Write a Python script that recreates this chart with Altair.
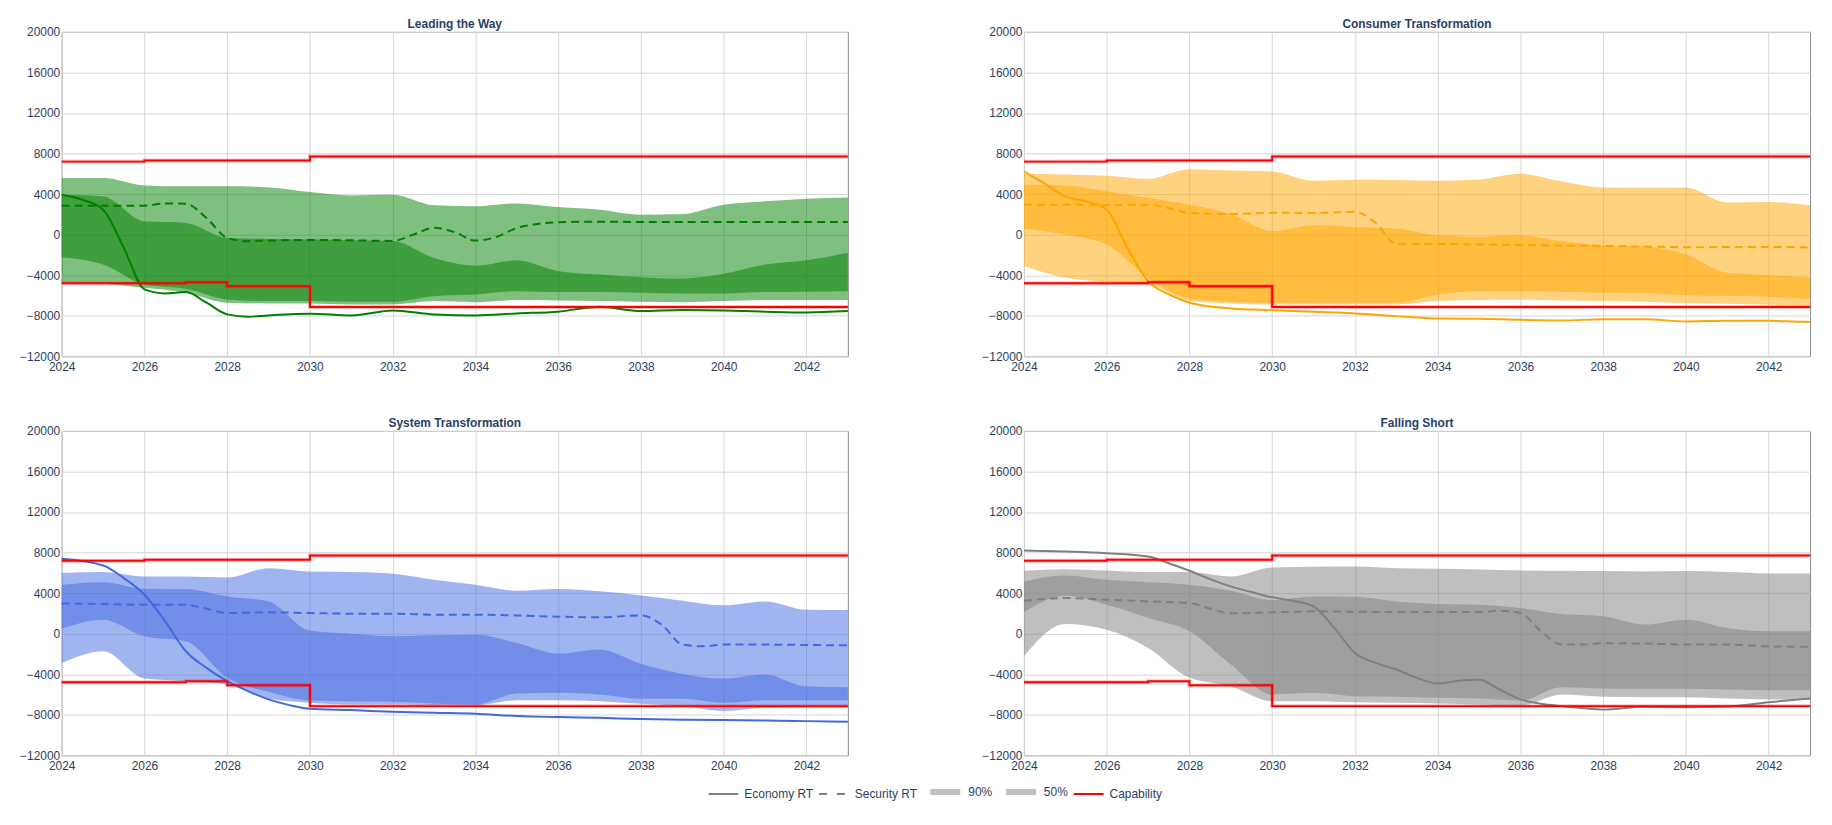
import altair as alt
import pandas as pd

# ---------------- data ----------------
YEARS = list(range(2024, 2044))
X_TICKS = list(range(2024, 2043, 2))
Y_TICKS = list(range(-12000, 20001, 4000))

# Leading the Way
LTW_P90_LO = [-4700, -4850, -5250, -5740, -6720, -6790, -6790, -6890, -6890, -6560, -6660, -6460, -6490, -6560, -6620, -6660, -6560, -6460, -6460, -6460]
LTW_P90_HI = [5580, 5580, 4850, 4760, 4760, 4660, 4200, 3870, 3940, 2900, 2790, 3080, 2720, 2460, 1970, 2030, 2950, 3280, 3540, 3670]
LTW_P50_LO = [-2230, -2950, -4920, -5350, -6400, -6560, -6560, -6620, -6620, -6070, -5900, -5580, -5670, -5670, -5740, -5810, -5810, -5670, -5640, -5580]
LTW_P50_HI = [3940, 3770, 1310, 1150, -330, -430, -490, -560, -620, -2300, -3050, -2530, -3610, -3940, -4200, -4330, -3870, -2950, -2530, -1800]
LTW_ECON_X = [2024, 2024.5, 2025, 2025.5, 2026, 2026.5, 2027, 2027.5, 2028, 2028.5, 2029, 2030, 2031, 2032, 2033, 2034, 2035, 2036, 2037, 2038, 2039, 2040, 2041, 2042, 2043]
LTW_ECON_Y = [3940, 3440, 2460, -1300, -5400, -5800, -5670, -6720, -7870, -8100, -7970, -7800, -7970, -7480, -7870, -7970, -7770, -7600, -7120, -7540, -7440, -7480, -7600, -7680, -7540]
LTW_SEC_X = [2024, 2025, 2026, 2026.5, 2027, 2027.5, 2028, 2028.5, 2029, 2030, 2031, 2032, 2032.5, 2033, 2033.5, 2034, 2034.5, 2035, 2035.5, 2036, 2037, 2038, 2039, 2040, 2041, 2042, 2043]
LTW_SEC_Y = [2850, 2850, 2850, 3080, 3050, 1640, -330, -650, -590, -520, -560, -620, 0, 680, 230, -590, -230, 650, 1050, 1210, 1280, 1250, 1250, 1250, 1250, 1250, 1250]

# Consumer Transformation
CT_P90_LO = [-3120, -4260, -4660, -4920, -6560, -6790, -6890, -6890, -6890, -6890, -6560, -6460, -6430, -6490, -6560, -6620, -6760, -6820, -6920, -6990]
CT_P90_HI = [5970, 5940, 5810, 5510, 6460, 6330, 6230, 5310, 5410, 5380, 5310, 5440, 6000, 5250, 4660, 4620, 4660, 3180, 3210, 2890]
CT_P50_LO = [590, 0, -980, -4260, -6300, -6620, -6720, -6690, -6720, -6720, -5900, -5580, -5580, -5640, -5740, -5770, -5970, -6040, -6130, -6330]
CT_P50_HI = [4920, 4850, 4260, 3610, 2950, 2030, 330, 920, 720, 590, -70, -230, -70, -660, -1050, -1180, -1970, -3770, -4000, -4260]
CT_ECON_X = [2024, 2024.5, 2025, 2025.5, 2026, 2026.5, 2027, 2027.5, 2028, 2029, 2030, 2031, 2032, 2033, 2034, 2035, 2036, 2037, 2038, 2039, 2040, 2041, 2042, 2043]
CT_ECON_Y = [6230, 5020, 3770, 3280, 2460, -1310, -4590, -5900, -6720, -7280, -7450, -7610, -7770, -8040, -8270, -8300, -8400, -8460, -8360, -8360, -8560, -8500, -8500, -8630]
CT_SEC_X = [2024, 2025, 2026, 2027, 2027.5, 2028, 2029, 2030, 2031, 2032, 2032.5, 2033, 2034, 2035, 2036, 2037, 2038, 2039, 2040, 2041, 2042, 2043]
CT_SEC_Y = [2950, 2950, 2890, 2950, 2620, 2130, 2030, 2160, 2130, 2250, 1150, -920, -920, -980, -1020, -1080, -1120, -1180, -1250, -1210, -1210, -1250]

# System Transformation
ST_P90_LO = [-2890, -1740, -4430, -4690, -5020, -6400, -6820, -6990, -6990, -7050, -7050, -6560, -6560, -6660, -6920, -7150, -7640, -7310, -7250, -7250]
ST_P90_HI = [5970, 6070, 5640, 5640, 5540, 6460, 6130, 6070, 5900, 5310, 4820, 4230, 4400, 4170, 3770, 3250, 2790, 3180, 2360, 2330]
ST_P50_LO = [490, 1380, -260, -750, -4360, -5740, -6590, -6660, -6720, -6890, -6990, -5900, -5840, -6000, -6430, -6430, -6820, -6560, -6560, -6560]
ST_P50_HI = [4820, 5080, 4430, 4400, 3670, 3180, 300, 0, -260, -160, -100, -920, -1970, -1570, -2980, -3970, -4430, -4030, -5220, -5280]
ST_ECON_X = [2024, 2025, 2025.5, 2026, 2026.5, 2027, 2027.5, 2028, 2028.5, 2029, 2029.5, 2030, 2031, 2032, 2033, 2034, 2035, 2036, 2037, 2038, 2039, 2040, 2041, 2042, 2043]
ST_ECON_Y = [7380, 6720, 5480, 3840, 1210, -1740, -3380, -4690, -5670, -6490, -7050, -7410, -7540, -7710, -7810, -7900, -8130, -8230, -8300, -8430, -8490, -8530, -8560, -8630, -8690]
ST_SEC_X = [2024, 2025, 2026, 2027, 2027.5, 2028, 2029, 2030, 2031, 2032, 2033, 2034, 2035, 2036, 2037, 2038, 2038.5, 2039, 2039.5, 2040, 2041, 2042, 2043]
ST_SEC_Y = [2980, 2920, 2850, 2850, 2460, 2030, 2100, 2030, 1970, 1970, 1870, 1870, 1800, 1670, 1610, 1800, 890, -1080, -1250, -1080, -1080, -1120, -1150]

# Falling Short
FS_P90_LO = [-2230, 950, 390, -1410, -4360, -5180, -6660, -6660, -6760, -6820, -6890, -6990, -7090, -6000, -6230, -6270, -6270, -6400, -6490, -6490]
FS_P90_HI = [6200, 6360, 6230, 6070, 6070, 5640, 6530, 6590, 6620, 6460, 6400, 6330, 6230, 6200, 6170, 6130, 6170, 6070, 5940, 5940]
FS_P50_LO = [2130, 3740, 2850, 1540, 230, -3050, -6000, -5840, -6170, -6230, -6330, -6400, -6590, -5280, -5410, -5440, -5440, -5510, -5580, -5580]
FS_P50_HI = [5150, 5740, 5310, 5080, 4820, 4230, 3310, 3670, 3640, 3180, 2920, 2850, 2530, 1940, 1710, 890, 1380, 560, 230, 230]
FS_ECON_X = [2024, 2025, 2026, 2027, 2027.5, 2028, 2028.5, 2029, 2029.5, 2030, 2030.5, 2031, 2031.5, 2032, 2032.5, 2033, 2033.5, 2034, 2034.5, 2035, 2035.5, 2036, 2036.5, 2037, 2038, 2039, 2040, 2041, 2042, 2043]
FS_ECON_Y = [8200, 8100, 7940, 7610, 6950, 6200, 5380, 4660, 4100, 3580, 3250, 2690, 560, -1900, -2890, -3540, -4360, -4920, -4650, -4560, -5510, -6490, -6920, -7150, -7480, -7220, -7250, -7180, -6760, -6400]
FS_SEC_X = [2024, 2025, 2026, 2027, 2028, 2028.5, 2029, 2030, 2031, 2032, 2033, 2034, 2035, 2035.5, 2036, 2036.5, 2037, 2037.5, 2038, 2039, 2040, 2041, 2042, 2043]
FS_SEC_Y = [3250, 3510, 3350, 3180, 3020, 2460, 2000, 2100, 2200, 2160, 2130, 2130, 2130, 2260, 2030, 230, -1080, -1080, -950, -980, -1080, -1080, -1250, -1310]

# Capability (step lines)
CAP_HI_X = [2024, 2026, 2030, 2043]
CAP_HI_Y = [7200, 7300, 7700, 7700]
CAP_LO_X = [2024, 2027, 2028, 2030, 2043]
CAP_LO_Y = [-4800, -4700, -5100, -7150, -7150]

LEGEND_ITEMS = ["Economy RT", "Security RT", "90%", "50%", "Capability"]

SCENARIOS = [
    ("Leading the Way", "#008000", LTW_P90_LO, LTW_P90_HI, LTW_P50_LO, LTW_P50_HI, LTW_ECON_X, LTW_ECON_Y, LTW_SEC_X, LTW_SEC_Y),
    ("Consumer Transformation", "#FFA500", CT_P90_LO, CT_P90_HI, CT_P50_LO, CT_P50_HI, CT_ECON_X, CT_ECON_Y, CT_SEC_X, CT_SEC_Y),
    ("System Transformation", "#4169E1", ST_P90_LO, ST_P90_HI, ST_P50_LO, ST_P50_HI, ST_ECON_X, ST_ECON_Y, ST_SEC_X, ST_SEC_Y),
    ("Falling Short", "#808080", FS_P90_LO, FS_P90_HI, FS_P50_LO, FS_P50_HI, FS_ECON_X, FS_ECON_Y, FS_SEC_X, FS_SEC_Y),
]

# ---------------- chart ----------------
FONT = "Arial, Liberation Sans, sans-serif"
TXT = "#2a3f5f"
XSCALE = alt.Scale(domain=[2024, 2043], nice=False, zero=False)
YSCALE = alt.Scale(domain=[-12000, 20000], nice=False, zero=False)
XAXIS = alt.Axis(values=X_TICKS, format="d", title=None, labelFlush=False, labelOverlap=False, labelPadding=5)
YAXIS = alt.Axis(values=Y_TICKS, format="d", title=None, labelFlush=False, labelOverlap=False, labelPadding=2)

cap_df = pd.DataFrame({
    "year": CAP_HI_X + CAP_LO_X,
    "value": CAP_HI_Y + CAP_LO_Y,
    "bound": ["hi"] * len(CAP_HI_X) + ["lo"] * len(CAP_LO_X),
})


def X():
    return alt.X("year:Q", scale=XSCALE, axis=XAXIS)


def Y(field):
    return alt.Y(f"{field}:Q", scale=YSCALE, axis=YAXIS)


def panel(name, color, p90lo, p90hi, p50lo, p50hi, ex, ey, sx, sy, with_legend=False):
    bands = pd.DataFrame({"year": YEARS, "p90lo": p90lo, "p90hi": p90hi, "p50lo": p50lo, "p50hi": p50hi})
    econ = pd.DataFrame({"year": ex, "value": ey})
    sec = pd.DataFrame({"year": sx, "value": sy})

    a90 = alt.Chart(bands).mark_area(color=color, opacity=0.5, interpolate="monotone").encode(
        x=X(), y=Y("p90lo"), y2="p90hi:Q")
    a50 = alt.Chart(bands).mark_area(color=color, opacity=0.5, interpolate="monotone").encode(
        x=X(), y=Y("p50lo"), y2="p50hi:Q")
    halo = alt.Chart(cap_df).mark_line(color="red", strokeWidth=4, opacity=0.25, interpolate="step-after").encode(
        x=X(), y=Y("value"), detail="bound:N")
    cap = alt.Chart(cap_df).mark_line(color="red", strokeWidth=2, interpolate="step-after").encode(
        x=X(), y=Y("value"), detail="bound:N")
    l_econ = alt.Chart(econ).mark_line(color=color, strokeWidth=2, interpolate="monotone").encode(
        x=X(), y=Y("value"))
    l_sec = alt.Chart(sec).mark_line(color=color, strokeWidth=2, strokeDash=[8, 5], interpolate="monotone").encode(
        x=X(), y=Y("value"))
    layers = [a90, a50, l_econ, l_sec, halo, cap]
    if with_legend:
        leg_df = pd.DataFrame({"item": LEGEND_ITEMS, "year": [2024] * 5, "value": [0] * 5})
        leg = alt.Chart(leg_df).transform_filter("false").mark_line().encode(
            x=X(), y=Y("value"),
            color=alt.Color("item:N", scale=alt.Scale(domain=LEGEND_ITEMS,
                            range=["#808080", "#808080", "#c0c0c0", "#c0c0c0", "#ff0000"]),
                            legend=alt.Legend(title=None, orient="none", legendX=649, legendY=746,
                                              direction="horizontal", symbolType="stroke",
                                              symbolSize=900, labelFont=FONT, labelFontSize=12,
                                              labelColor=TXT, columnPadding=1, labelOffset=5)),
            strokeDash=alt.StrokeDash("item:N", scale=alt.Scale(domain=LEGEND_ITEMS,
                                      range=[[1, 0], [8, 10], [1, 0], [1, 0], [1, 0]]), legend=alt.Legend(title=None)),
            strokeWidth=alt.StrokeWidth("item:N", scale=alt.Scale(type="ordinal", domain=LEGEND_ITEMS,
                                        range=[2, 2, 6, 6, 2]), legend=alt.Legend(title=None)),
        )
        layers.append(leg)
    return alt.layer(*layers).properties(
        width=790, height=326,
        title=alt.TitleParams(name, fontSize=12, font=FONT, fontWeight="bold", color=TXT, offset=-5),
    )


panels = [panel(*s, with_legend=(i == 2)) for i, s in enumerate(SCENARIOS)]

chart = alt.concat(*panels, columns=2, spacing={"row": 43, "column": 125}).properties(
    padding={"left": 11, "top": 7, "right": 5, "bottom": 5}
).configure_axis(
    labelFont=FONT, labelFontSize=12, labelColor=TXT, gridColor="#d6d6d6", gridWidth=1,
    domain=False, ticks=False,
).configure_view(stroke="#888888", strokeWidth=1)

chart.save("out.html", embed_options={"renderer": "svg", "actions": False})
